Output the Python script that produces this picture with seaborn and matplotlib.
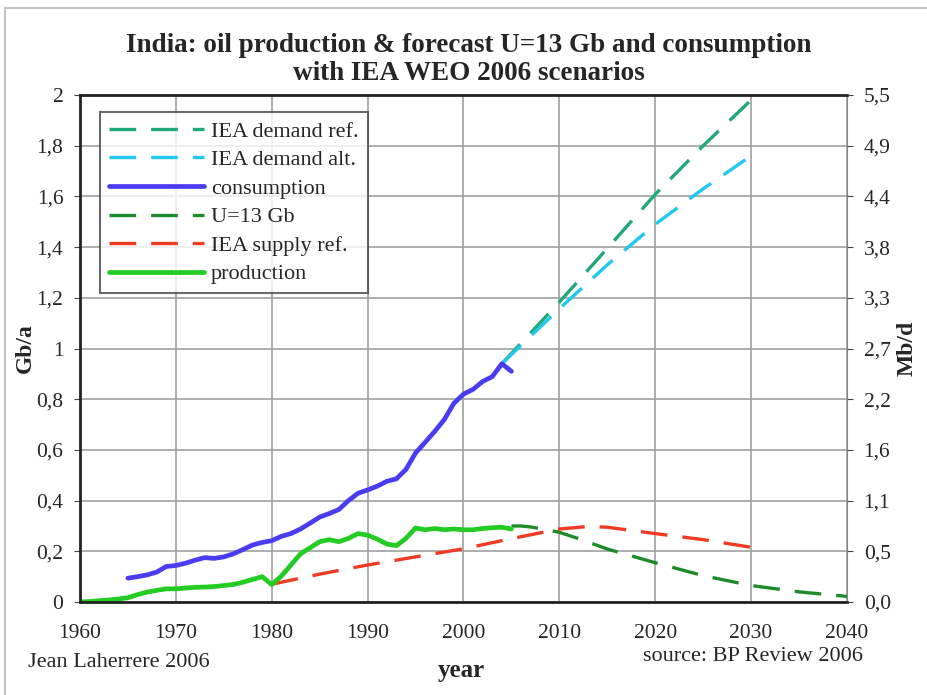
import numpy as np
import pandas as pd
import seaborn as sns
import matplotlib.pyplot as plt
from matplotlib.patches import Rectangle

# values (Gb/a)
prod_years = list(range(1960, 2006))
production = [0.000, 0.002, 0.005, 0.008, 0.012, 0.017, 0.029, 0.039, 0.046, 0.052,
              0.052, 0.055, 0.058, 0.059, 0.061, 0.065, 0.069, 0.078, 0.089, 0.100,
              0.069, 0.102, 0.146, 0.190, 0.214, 0.238, 0.246, 0.238, 0.251, 0.270,
              0.264, 0.248, 0.229, 0.222, 0.251, 0.292, 0.285, 0.290, 0.285, 0.288,
              0.285, 0.285, 0.290, 0.293, 0.295, 0.288]

cons_years = list(range(1965, 2006))
consumption = [0.094, 0.100, 0.107, 0.118, 0.140, 0.144, 0.153, 0.165, 0.175, 0.172,
               0.178, 0.190, 0.207, 0.225, 0.235, 0.242, 0.259, 0.270, 0.288, 0.311,
               0.335, 0.349, 0.365, 0.400, 0.429, 0.442, 0.457, 0.476, 0.486, 0.523,
               0.588, 0.630, 0.673, 0.720, 0.784, 0.820, 0.839, 0.870, 0.889, 0.940,
               0.910]

u13_years = [2005, 2006, 2007, 2008, 2010, 2012, 2015, 2020, 2025, 2030, 2035, 2040]
u13 = [0.300, 0.300, 0.296, 0.290, 0.275, 0.250, 0.209, 0.155, 0.104, 0.065, 0.040, 0.022]

supply_years = [1980, 1985, 1990, 1995, 2000, 2005, 2010, 2013, 2015, 2020, 2025, 2030]
supply_ref = [0.070, 0.110, 0.146, 0.178, 0.210, 0.250, 0.288, 0.298, 0.295, 0.270, 0.246, 0.216]

demand_years = [2004, 2010, 2015, 2020, 2025, 2030]
demand_ref = [0.940, 1.183, 1.395, 1.608, 1.800, 1.980]
demand_alt = [0.940, 1.157, 1.330, 1.490, 1.630, 1.760]

GB_TO_MBD = 1000 / 365

sns.set_style("whitegrid", {"grid.color": "#9a9a9a", "axes.edgecolor": "#222222"})
plt.rcParams['font.family'] = ['Liberation Serif', 'DejaVu Serif']

fig = plt.figure(figsize=(9.28, 6.95), dpi=100)
ax = fig.add_axes([0.0862, 0.1338, 0.8265, 0.7295])

dash = (8, 4.5)
sns.lineplot(x=demand_years, y=demand_ref, ax=ax, color="#1fa878", lw=2.4,
             label="IEA demand ref.").lines[-1].set_dashes(dash)
sns.lineplot(x=demand_years, y=demand_alt, ax=ax, color="#20c8f0", lw=2.4,
             label="IEA demand alt.").lines[-1].set_dashes(dash)
sns.lineplot(x=cons_years, y=consumption, ax=ax, color="#4a3cf0", lw=3.4,
             label="consumption")
sns.lineplot(x=u13_years, y=u13, ax=ax, color="#1e8a2a", lw=2.4,
             label="U=13 Gb").lines[-1].set_dashes(dash)
sns.lineplot(x=supply_years, y=supply_ref, ax=ax, color="#f03a22", lw=2.4,
             label="IEA supply ref.").lines[-1].set_dashes(dash)
sns.lineplot(x=prod_years, y=production, ax=ax, color="#22cc22", lw=3.4,
             label="production")

ax.set_xlim(1960, 2040)
ax.set_ylim(0, 2)
ax.set_xticks(range(1960, 2041, 10))
yt = np.round(np.arange(0, 2.01, 0.2), 1)
ax.set_yticks(yt)
ax.set_yticklabels([f"{v:g}".replace('.', ',') for v in yt])
ax.tick_params(labelsize=15.5, length=4, color="#444444")
ax.tick_params(axis="x", pad=12)
ax.tick_params(axis="y", pad=8)
ax.grid(True, color="#a0a0a0", lw=1.2)
for s in ["left", "bottom", "top"]:
    ax.spines[s].set_color("#222222")
    ax.spines[s].set_linewidth(2)
ax.spines["right"].set_color("#888888")
ax.set_xlabel("")
ax.set_ylabel("Gb/a", fontsize=17, fontweight="bold", labelpad=0)

ax2 = ax.twinx()
ax2.set_ylim(0, 2 * GB_TO_MBD)
ax2.set_yticks(yt * GB_TO_MBD)
ax2.set_yticklabels([f"{v * GB_TO_MBD:.1f}".replace('.', ',') for v in yt])
ax2.tick_params(labelsize=15.5, length=4, color="#444444", pad=8)
ax2.grid(False)
ax2.set_ylabel("Mb/d", fontsize=17, fontweight="bold", labelpad=4)
for s in ax2.spines.values():
    s.set_visible(False)

leg = ax.legend(loc="upper left", bbox_to_anchor=(0.026, 0.966), borderaxespad=0,
                fontsize=16, frameon=True, fancybox=False, handlelength=4.3,
                handletextpad=0.3, borderpad=0.4, labelspacing=0.36)
leg.get_frame().set_edgecolor("#444444")
leg.get_frame().set_linewidth(1.5)

fig.text(0.505, 0.952, "India: oil production & forecast U=13 Gb and consumption\nwith IEA WEO 2006 scenarios",
         ha="center", va="top", fontsize=19.5, fontweight="bold", linespacing=1.15)
fig.text(0.497, 0.035, "year", ha="center", va="center", fontsize=18, fontweight="bold")
fig.text(0.03, 0.047, "Jean Laherrere 2006", ha="left", va="center", fontsize=16)
fig.text(0.93, 0.056, "source: BP Review 2006", ha="right", va="center", fontsize=16)

fig.patches.append(Rectangle((0.005, -0.01), 1.2, 0.998, transform=fig.transFigure,
                             fill=False, edgecolor="#c4c4c4", lw=1.5))

fig.savefig("out.png", dpi=100)
